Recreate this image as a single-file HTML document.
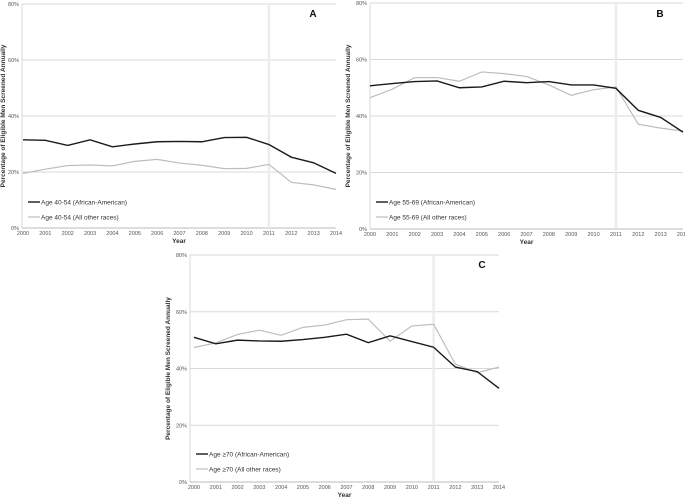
<!DOCTYPE html>
<html><head><meta charset="utf-8"><style>
html,body{margin:0;padding:0;background:#fff;}
svg{display:block;font-family:"Liberation Sans",sans-serif;}
</style></head><body>
<svg id="c" width="685" height="499" viewBox="0 0 685 499"></svg>
<script>
const years=["2000","2001","2002","2003","2004","2005","2006","2007","2008","2009","2010","2011","2012","2013","2014"];
const yTicks=[0,20,40,60,80];
const aBlack=[31.5,31.3,29.5,31.5,29,30,30.8,30.9,30.8,32.3,32.4,29.8,25.3,23.3,19.5];
const aGray=[19.5,21,22.3,22.5,22.2,23.8,24.5,23.2,22.4,21.2,21.3,22.7,16.3,15.4,13.8];
const bBlack=[50.7,51.5,52.2,52.4,50,50.3,52.3,51.8,52.2,51,51,49.8,42,39.5,34.3];
const bGray=[46.5,49.5,53.6,53.6,52.3,55.6,55,54,51,47.3,49.3,50.3,37.1,35.7,34.7];
const cBlack=[51,48.7,50,49.7,49.6,50.2,51,52.1,49.1,51.5,49.5,47.5,40.5,38.9,33];
const cGray=[47.4,49,52,53.5,51.7,54.5,55.3,57.2,57.4,49.6,55,55.6,41.5,38.5,40.5];
const legA=["Age 40-54 (African-American)","Age 40-54 (All other races)"];
const legB=["Age 55-69 (African-American)","Age 55-69 (All other races)"];
const legC=["Age \u226570 (African-American)","Age \u226570 (All other races)"];
const svg=document.getElementById('c');
const NS="http://www.w3.org/2000/svg";
function mk(tag,at,parent){const e=document.createElementNS(NS,tag);for(const k in at)e.setAttribute(k,at[k]);(parent||svg).appendChild(e);return e;}
function panel(p){
  const g=mk('g',{});
  
  
  const X=i=>p.x0+(p.x1-p.x0)*i/(years.length-1);
  const Y=v=>p.y0-(p.y0-p.y1)*v/80;
  yTicks.forEach(t=>{
    if(t>0){const l=mk('line',{x1:p.ax,x2:p.x1,y1:Y(t),y2:Y(t),stroke:'#d9d9d9','stroke-width':1},g);
    }
    const tx=mk('text',{x:p.ax-3,y:Y(t)+2,'font-size':5.5,'text-anchor':'end',fill:'#555'},g);tx.textContent=t+'%';
    
  });
  const ax=mk('line',{x1:p.ax,x2:p.ax,y1:p.y1,y2:p.y0,stroke:'#d9d9d9'},g);
  
  const bx=mk('line',{x1:p.ax,x2:p.x1,y1:p.y0,y2:p.y0,stroke:'#bbb'},g);
  
  const v=mk('line',{x1:X(11),x2:X(11),y1:p.y1,y2:p.y0,stroke:'#ececec','stroke-width':2.5},g);
  
  years.forEach((yr,i)=>{
    const t=mk('text',{x:X(i),y:p.y0+7,'font-size':5.5,'text-anchor':'middle',fill:'#555'},g);t.textContent=yr;
    
  });
  [[p.gray,'#bdbdbd',1.2,'series-all-other-races'],[p.black,'#1a1a1a',1.4,'series-african-american']].forEach(s=>{
    const pl=mk('polyline',{points:s[0].map((d,i)=>X(i)+','+Y(d)).join(' '),fill:'none',stroke:s[1],'stroke-width':s[2]},g);
    
  });
  p.leg.forEach((t,i)=>{
    const ly=p.ly+i*15;
    mk('line',{x1:p.lx,x2:p.lx+12,y1:ly,y2:ly,stroke:i?'#bdbdbd':'#1a1a1a','stroke-width':i?1.2:1.4},g);
    const tx=mk('text',{x:p.lx+13,y:ly+2.5,'font-size':6.5,fill:'#333'},g);tx.textContent=t;
    
  });
  const L=mk('text',{x:p.lt[0],y:p.lt[1],'font-size':10,'font-weight':'bold',fill:'#111','text-anchor':'middle'},g);L.textContent=p.letter;
  
  const xt=mk('text',{x:(p.ax+p.x1)/2,y:p.y0+15,'font-size':6.5,'font-weight':'bold','text-anchor':'middle',fill:'#333'},g);xt.textContent='Year';
  
  const yc=(p.y0+p.y1)/2;
  const yt=mk('text',{x:p.yx,y:yc,'font-size':6.5,'font-weight':'bold','text-anchor':'middle',fill:'#333',transform:'rotate(-90 '+p.yx+' '+yc+')'},g);
  yt.textContent='Percentage of Eligible Men Screened Annually';
  
}
panel({letter:'A',ax:22,x0:23,x1:336,y0:228,y1:4,black:aBlack,gray:aGray,leg:legA,lx:28,ly:202,lt:[313,17],yx:5});
panel({letter:'B',ax:370,x0:370,x1:683,y0:229,y1:3,black:bBlack,gray:bGray,leg:legB,lx:376,ly:202,lt:[660,17],yx:350});
panel({letter:'C',ax:190,x0:194,x1:499,y0:482,y1:255,black:cBlack,gray:cGray,leg:legC,lx:196,ly:454,lt:[482,268],yx:170});
</script>
</body></html>
